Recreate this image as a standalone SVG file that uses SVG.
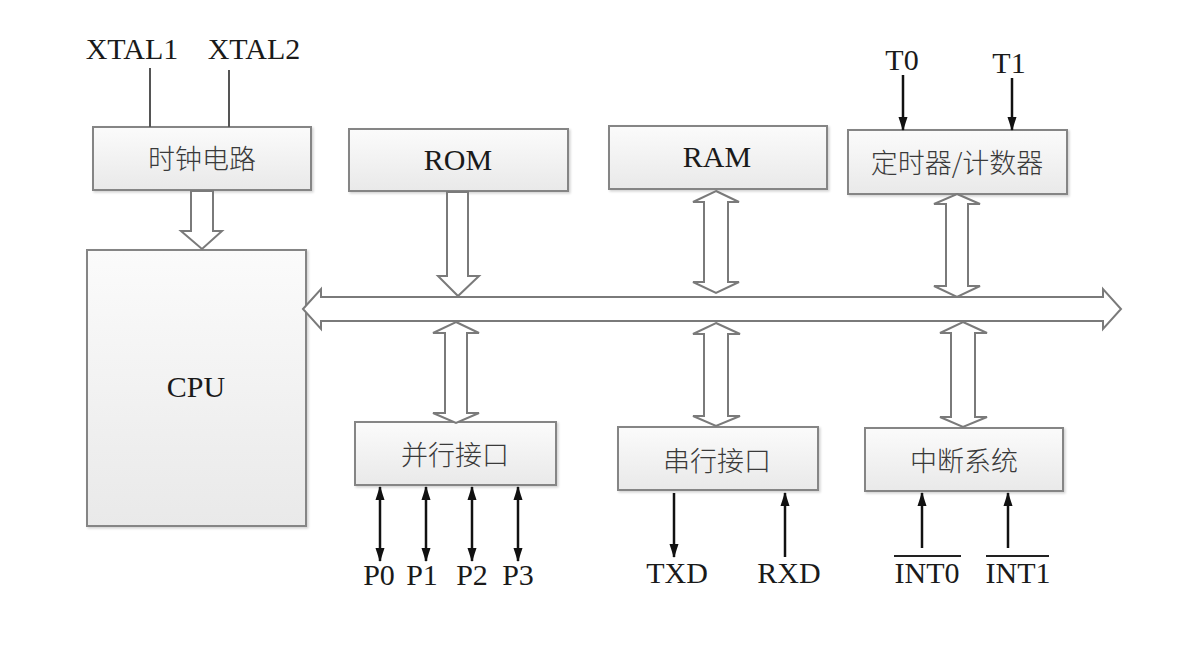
<svg xmlns="http://www.w3.org/2000/svg" width="1194" height="646" viewBox="0 0 1194 646">
<defs>
<linearGradient id="boxg" x1="0" y1="0" x2="0" y2="1">
<stop offset="0" stop-color="#fbfbfb"/>
<stop offset="1" stop-color="#e9e9e9"/>
</linearGradient>
<marker id="ah" markerWidth="14" markerHeight="10" refX="13" refY="5" orient="auto-start-reverse" markerUnits="userSpaceOnUse" viewBox="0 0 14 10">
<path d="M0,0.5 L14,5 L0,9.5 z" fill="#111"/>
</marker>
<filter id="sh" x="-5%" y="-5%" width="115%" height="120%">
<feDropShadow dx="1.5" dy="1.5" stdDeviation="1.2" flood-color="#000" flood-opacity="0.18"/>
</filter>
</defs>
<style>
.box{fill:url(#boxg);stroke:#858585;stroke-width:2;filter:url(#sh)}
.cn{font-family:"Noto Sans CJK SC","Noto Sans",sans-serif;font-size:27px;font-weight:300;fill:#3a3a3a;text-anchor:middle;dominant-baseline:central}
.lat{font-family:"Liberation Serif",serif;font-size:30px;fill:#1a1a1a;text-anchor:middle}
.hol{fill:#fff;stroke:#7a7a7a;stroke-width:2;stroke-linejoin:miter}
.wire{stroke:#555;stroke-width:2;fill:none}
.sig{stroke:#111;stroke-width:2.5;fill:none}
</style>
<rect width="1194" height="646" fill="#fff"/>

<g id="clock">
<rect class="box" x="93" y="127" width="218" height="63"/>
<text class="cn" x="202" y="157">时钟电路</text>
</g>
<g id="cpu">
<rect class="box" x="87" y="250" width="219" height="276"/>
<text class="lat" x="196" y="397">CPU</text>
</g>
<g id="rom">
<rect class="box" x="349" y="129" width="219" height="62"/>
<text class="lat" x="458" y="170">ROM</text>
</g>
<g id="ram">
<rect class="box" x="609" y="126" width="218" height="63"/>
<text class="lat" x="717" y="167">RAM</text>
</g>
<g id="timer">
<rect class="box" x="848" y="130" width="219" height="64"/>
<text class="cn" x="957" y="161">定时器/计数器</text>
</g>
<g id="parallel">
<rect class="box" x="355" y="422" width="201" height="63"/>
<text class="cn" x="455" y="453">并行接口</text>
</g>
<g id="serial">
<rect class="box" x="618" y="427" width="200" height="63"/>
<text class="cn" x="717" y="459">串行接口</text>
</g>
<g id="interrupt">
<rect class="box" x="865" y="428" width="198" height="63"/>
<text class="cn" x="964" y="459">中断系统</text>
</g>

<g id="labels">
<text class="lat" x="132" y="59" font-size="29">XTAL1</text>
<text class="lat" x="254" y="59" font-size="29">XTAL2</text>
<text class="lat" x="902" y="70" font-size="29">T0</text>
<text class="lat" x="1009" y="73" font-size="29">T1</text>
<text class="lat" x="379" y="585" font-size="29">P0</text>
<text class="lat" x="422" y="585" font-size="29">P1</text>
<text class="lat" x="472" y="585" font-size="29">P2</text>
<text class="lat" x="518" y="585" font-size="29">P3</text>
<text class="lat" x="677" y="583" font-size="29">TXD</text>
<text class="lat" x="789" y="583" font-size="29">RXD</text>
<text class="lat" x="927" y="583" font-size="29">INT0</text>
<text class="lat" x="1018" y="583" font-size="29">INT1</text>
<line x1="894" y1="556" x2="961" y2="556" stroke="#222" stroke-width="2"/>
<line x1="986" y1="556" x2="1049" y2="556" stroke="#222" stroke-width="2"/>
</g>

<g id="connectors">
<line class="wire" x1="150" y1="68" x2="150" y2="127"/>
<line class="wire" x1="229" y1="70" x2="229" y2="127"/>
<polygon class="hol" points="191,191 213,191 213,231 222,231 202,249 181,231 191,231"/>
<polygon class="hol" points="447,192 468,192 468,276 479,276 458,296 438,276 447,276"/>
<polygon class="hol" points="716,191 739,202 728,202 728,282 739,282 716,293 693,282 704,282 704,202 693,202"/>
<polygon class="hol" points="957,194 980,204 968,204 968,286 980,286 957,297 934,286 946,286 946,204 934,204"/>
<polygon class="hol" points="303,309 321,289 321,297 1103,297 1103,289 1121,309 1103,329 1103,321 321,321 321,329"/>
<polygon class="hol" points="456,322 479,333 467,333 467,413 479,413 456,423 433,413 445,413 445,333 433,333"/>
<polygon class="hol" points="716,323 740,334 728,334 728,416 740,416 716,426 693,416 704,416 704,334 693,334"/>
<polygon class="hol" points="963,322 987,333 975,333 975,417 987,417 963,427 940,417 951,417 951,333 940,333"/>
<line class="sig" x1="903" y1="75" x2="903" y2="130" marker-end="url(#ah)"/>
<line class="sig" x1="1012" y1="78" x2="1012" y2="130" marker-end="url(#ah)"/>
<line class="sig" x1="380" y1="487" x2="380" y2="561" marker-start="url(#ah)" marker-end="url(#ah)"/>
<line class="sig" x1="426" y1="487" x2="426" y2="561" marker-start="url(#ah)" marker-end="url(#ah)"/>
<line class="sig" x1="472" y1="487" x2="472" y2="561" marker-start="url(#ah)" marker-end="url(#ah)"/>
<line class="sig" x1="518" y1="487" x2="518" y2="561" marker-start="url(#ah)" marker-end="url(#ah)"/>
<line class="sig" x1="674" y1="493" x2="674" y2="557" marker-end="url(#ah)"/>
<line class="sig" x1="785" y1="557" x2="785" y2="493" marker-end="url(#ah)"/>
<line class="sig" x1="922" y1="548" x2="922" y2="493" marker-end="url(#ah)"/>
<line class="sig" x1="1008" y1="548" x2="1008" y2="493" marker-end="url(#ah)"/>
</g>
</svg>
